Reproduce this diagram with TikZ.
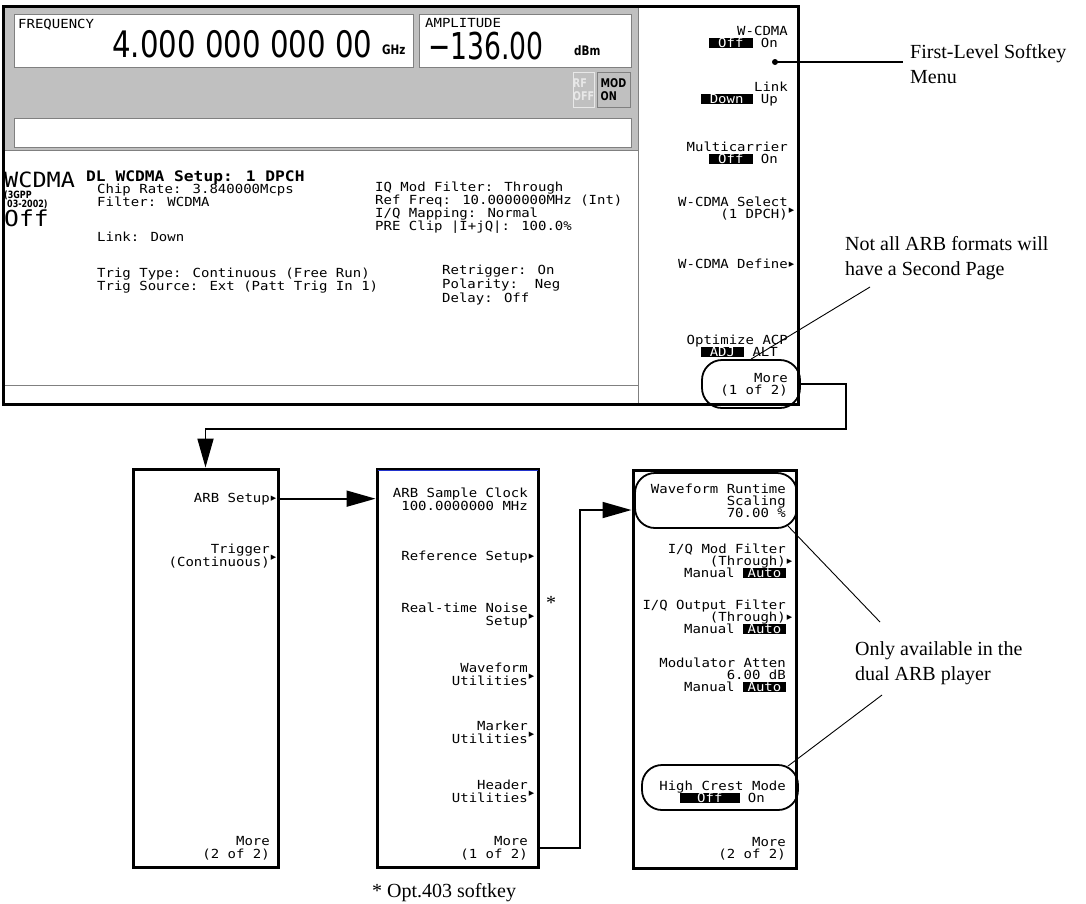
\documentclass[tikz,border=0pt]{standalone}
\usepackage{fontspec}
\setmainfont{Liberation Serif}
\newfontfamily\lcd[FakeStretch=1.12]{DejaVu Sans Mono}
\newfontfamily\lcdsans[FakeStretch=0.8]{DejaVu Sans}
\newfontfamily\lcdtall[FakeStretch=0.72]{DejaVu Sans}
\newfontfamily\symf{DejaVu Sans}
\usetikzlibrary{arrows.meta, positioning, calc}
\definecolor{lcdgray}{HTML}{C0C0C0}
\definecolor{lcdedge}{HTML}{808080}
\definecolor{lcdlite}{HTML}{E8E8E8}
\definecolor{topblue}{HTML}{2233CC}

\newcommand{\keyfont}[1]{\lcd\fontsize{12.5}{#1}\selectfont\lineskiplimit=-50pt\relax}
\newcommand{\stdfont}{\lcdsans\bfseries\fontsize{10}{8.5}\selectfont\lineskiplimit=-50pt\relax}
\newcommand{\sel}[2][9pt]{\smash{\setlength{\fboxsep}{0pt}\colorbox{black}{\rule[-1.2pt]{0pt}{10.5pt}\hspace{#1}\textcolor{white}{#2}\hspace{#1}}}}
\newcommand{\tri}{\rlap{\smash{\hspace{1pt}\raisebox{2pt}{\symf\fontsize{7}{7}\selectfont ▶}}}}
\newcommand{\trid}{\rlap{\smash{\hspace{1pt}\raisebox{-6pt}{\symf\fontsize{7}{7}\selectfont ▶}}}}

\begin{document}
\begin{tikzpicture}[
    x=1pt, y=-1pt,
    >={Triangle[length=29pt, width=16pt]},
    every node/.style={inner sep=0pt},
    panel/.style={draw, line width=3pt, fill=white, minimum height=398pt},
    skey/.style={font=\keyfont{12}, align=right, anchor=base east},
    bkey/.style={skey, font=\keyfont{13}},
    stat/.style={font=\keyfont{13}, align=left, anchor=base west},
    ring/.style={draw, line width=1.8pt, rounded corners=20pt},
    note/.style={font=\fontsize{20}{25}\selectfont, align=left, anchor=base west},
    conn/.style={->, line width=1.8pt},
    leader/.style={line width=0.9pt},
]
\useasboundingbox (0,0) rectangle (1086,903);

%% ============ SCREEN: DISPLAY AREA ============
%% (multi-line nodes sit on the baseline of their LAST line)
\fill[lcdgray] (3,6) rectangle (638,150);
\draw[lcdedge, fill=white] (14,14) rectangle (413,67);   % frequency
\draw[lcdedge, fill=white] (419,14) rectangle (631,67);  % amplitude
\draw[lcdlite, fill=lcdgray] (573,72) rectangle (594,107);
\draw[lcdedge, fill=lcdgray] (597,72) rectangle (630,107);
\draw[lcdedge, fill=white] (14,118) rectangle (631,147); % message line
\draw[lcdedge, line width=1pt] (3,150) -- (638,150);
\draw[lcdedge, line width=1pt] (3,385) -- (638,385);
\draw[lcdedge, line width=1pt] (638,6) -- (638,404);

\node[stat, font=\keyfont{12}] (freqlbl) at (18,28) {FREQUENCY};
\node[anchor=base west, font=\lcdsans\fontsize{36.5}{36.5}\selectfont] (freqval) at (112,57) {4.000 000 000 00};
\node[anchor=base west, font=\lcdsans\bfseries\fontsize{13}{13}\selectfont] (frequnit) at (382,54) {GHz};

\node[stat, font=\keyfont{12}] (amplbl) at (425,27) {AMPLITUDE};
\node[anchor=base west, font=\lcdtall\fontsize{37}{37}\selectfont] (amplval) at (428,59) {−136.00};
\node[anchor=base west, font=\lcdsans\bfseries\fontsize{13}{13}\selectfont] (ampunit) at (574,55) {dBm};

\node[align=left, text=lcdlite, font=\lcdsans\bfseries\fontsize{12}{13}\selectfont] (rfbtn) at (583.5,89.5) {RF\\OFF};
\node[align=left, font=\lcdsans\bfseries\fontsize{12}{13}\selectfont] (modbtn) at (613.5,89.5) {MOD\\ON};

%% ============ SCREEN: STATUS AREA ============
\node[anchor=base west, font=\lcd\fontsize{21}{21}\selectfont] (fmtname) at (4,187) {WCDMA};
\node[anchor=base west, align=left, font=\stdfont] (fmtstd) at (4,207) {(3GPP\\\hspace*{3pt}03-2002)};
\node[anchor=base west, font=\lcd\fontsize{22}{22}\selectfont] (fmtstate) at (4,226) {Off};

\node[anchor=base west, font=\lcd\bfseries\fontsize{14.5}{14.5}\selectfont] (setup) at (86,181) {DL WCDMA Setup: 1 DPCH};
\node[stat] (chiprate) at (97,193) {Chip Rate: 3.840000Mcps};
\node[stat] (filter) at (97,206) {Filter: WCDMA};
\node[stat] (linkst) at (97,241) {Link: Down};
\node[stat] (trig) at (97,290) {Trig Type: Continuous (Free Run)\\Trig Source: Ext (Patt Trig In 1)};
\node[stat] (iqcol) at (375,230) {IQ Mod Filter: Through\\Ref Freq: 10.0000000MHz (Int)\\I/Q Mapping: Normal\\PRE Clip |I+jQ|: 100.0\%};
\node[stat, font=\keyfont{14}] (retrig) at (442,302) {Retrigger: On\\Polarity:\ \ Neg\\Delay: Off};

%% ============ SCREEN: FIRST-LEVEL SOFTKEYS ============
\node[skey] (wcdma) at (788,47) {W-CDMA\\\sel{Off} On\hspace*{10pt}};
\node[skey] (link) at (788,103) {Link\\\sel{Down} Up\hspace*{10pt}};
\node[skey] (multi) at (788,163) {Multicarrier\\\sel{Off} On\hspace*{10pt}};
\node[skey] (select) at (788,218) {W-CDMA Select\trid\\(1 DPCH)};
\node[skey] (define) at (788,268) {W-CDMA Define\tri};
\node[skey] (acp) at (788,356) {Optimize ACP\\\sel{ADJ} ALT\hspace*{10pt}};
\node[skey] (moreone) at (788,394) {More\\(1 of 2)};

% screen frame on top of the fills
\node[draw, line width=3pt, minimum width=795pt, minimum height=398pt] (scr) at (400.5,205) {};

%% ============ SECOND PAGE + ARB MENUS ============
\node[panel, minimum width=145pt] (pg2) at (205.5,668) {};
\node[panel, minimum width=161pt] (midpanel) at (457.5,668) {};
\node[panel, minimum width=163pt] (rpanel) at (714.5,669) {};
\draw[topblue, line width=0.8pt] ($(midpanel.north west)+(2,2.5)$) -- ($(midpanel.north east)+(-2,2.5)$);

% page 2 of 2
\node[bkey] (arbsetup) at (270,502) {ARB Setup\tri};
\node[bkey] (trigger) at (270,566) {Trigger\trid\\(Continuous)};
\node[bkey] (moretwo) at (270,858) {More\\(2 of 2)};

% ARB setup menu
\node[bkey] (clock) at (528,510) {ARB Sample Clock\\100.0000000 MHz};
\node[bkey] (refsetup) at (528,560) {Reference Setup\tri};
\node[bkey] (noise) at (528,625) {Real-time Noise\trid\\Setup};
\node[bkey] (wfutil) at (528,685) {Waveform\trid\\Utilities};
\node[bkey] (mkutil) at (528,743) {Marker\trid\\Utilities};
\node[bkey] (hdutil) at (528,802) {Header\trid\\Utilities};
\node[bkey] (midmore) at (528,858) {More\\(1 of 2)};

% ARB setup, page 2
\node[skey] (wfscale) at (786,517) {Waveform Runtime\\Scaling\\70.00 \%};
\node[skey] (iqmod) at (786,577) {I/Q Mod Filter\\(Through)\tri\\Manual \sel[4.5pt]{Auto}};
\node[skey] (iqout) at (786,633) {I/Q Output Filter\\(Through)\tri\\Manual \sel[4.5pt]{Auto}};
\node[skey] (modatt) at (786,691) {Modulator Atten\\6.00 dB\\Manual \sel[4.5pt]{Auto}};
\node[skey] (crest) at (786,802) {High Crest Mode\\\sel[17pt]{Off} On\hspace*{21pt}};
\node[skey] (rpmore) at (786,858) {More\\(2 of 2)};

%% ============ HIGHLIGHT RINGS ============
\node[ring, minimum width=98pt, minimum height=48pt] (ringmore) at (751,384) {};
\node[ring, minimum width=162pt, minimum height=55pt] (ringwf) at (716,500.5) {};
\node[ring, minimum width=156pt, minimum height=45pt] (ringhc) at (720,787.5) {};

%% ============ MENU FLOW ============
\coordinate (turn) at (846,429);
\draw[conn] (ringmore.east) -| (turn) -| (pg2.north);
\draw[conn] (pg2.east |- arbsetup.east) -- (midpanel.west |- arbsetup.east);
\coordinate (jog) at (580,510);
\draw[conn] (midpanel.east |- midmore.east) -| (jog) -- (jog -| rpanel.west);

%% ============ ANNOTATIONS ============
\coordinate (menudot) at (775,62);
\fill (menudot) circle (3pt);
\node[note] (menulbl) at (910,83) {First-Level Softkey\\Menu};
\draw[line width=1.8pt, shorten >=7pt] (menudot) -- (menudot -| menulbl.west);

\node[note] (arbnote) at (845,275) {Not all ARB formats will\\have a Second Page};
\coordinate (arbtip) at (870,287);
\draw[leader] (ringmore.north) -- (arbtip);

\node[note] (dualnote) at (855,680) {Only available in the\\dual ARB player};
\coordinate (dualtop) at (880,622);
\coordinate (dualbot) at (882,695);
\draw[leader] ($(ringwf.south east)+(-10,-3)$) -- (dualtop);
\draw[leader] ($(ringhc.north east)+(-11,2)$) -- (dualbot);

\node[font=\fontsize{20}{20}\selectfont] (optstar) at (551,603) {*};
\node[note] (optnote) at (372,897) {* Opt.403 softkey};

\end{tikzpicture}
\end{document}
